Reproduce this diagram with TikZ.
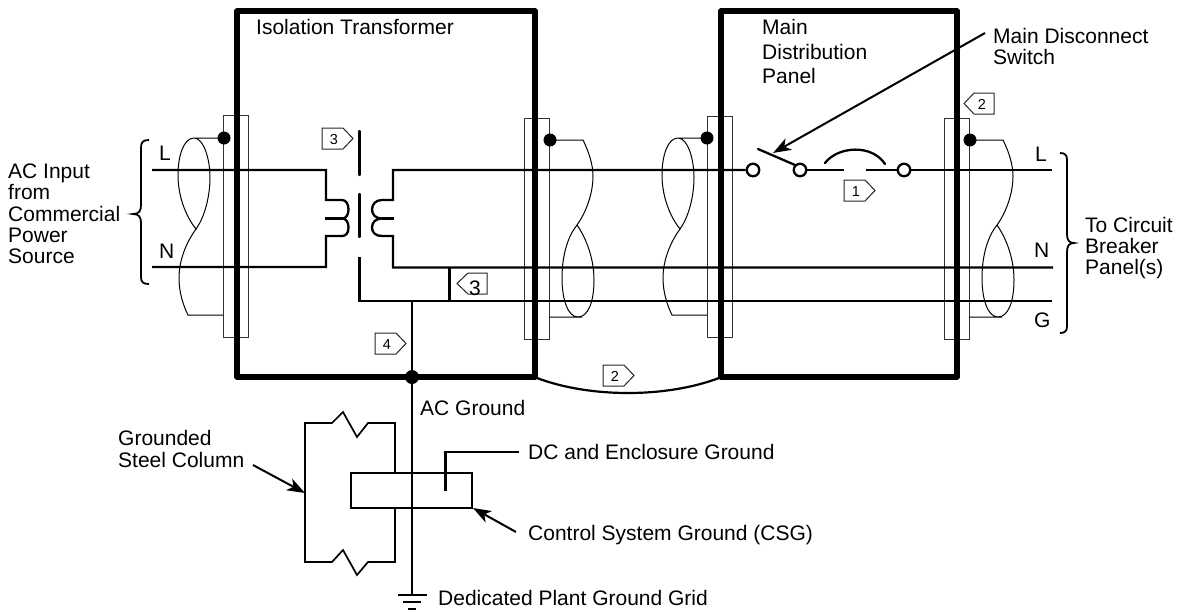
\documentclass[tikz,border=0pt]{standalone}
\usepackage{fontspec}
\setmainfont{Liberation Sans}
\usetikzlibrary{arrows.meta}
\tikzset{
  x=1pt,y=-1pt,
  heavy/.style={line width=5.2pt,line cap=round,line join=round},
  wire/.style={line width=2.3pt,line cap=butt,line join=miter},
  thinw/.style={line width=1pt},
  strip/.style={draw=black!80,line width=1pt},
  dotn/.style={circle,fill=black,inner sep=0pt,minimum size=13pt},
  term/.style={circle,draw,fill=white,line width=2.3pt,inner sep=0pt,minimum size=12.5pt},
  lbl/.style={anchor=base west,inner sep=0pt,font=\fontsize{21}{21}\selectfont,align=left},
  tagtxt/.style={font=\fontsize{14.5}{14.5}\selectfont,inner sep=0pt,anchor=base},
  tag/.style={draw=black!85,line width=1pt,line join=miter,fill=white},
  arw/.style={line width=2pt,-{Stealth[length=18pt,width=13pt,inset=5pt]}},
}
\newcommand{\tagR}[3]{% x left, y top, text: pentagon pointing right
  \draw[tag] (#1,#2) -- ++(21,0) -- ++(10,10.5) -- ++(-10,10.5) -- ++(-21,0) -- cycle;
  \node[tagtxt] at (#1+12,#2+16) {#3};
}
\newcommand{\tagL}[3]{% x left tip, y top
  \draw[tag] (#1,#2+10.5) -- ++(10,-10.5) -- ++(20,0) -- ++(0,21) -- ++(-20,0) -- cycle;
  \node[tagtxt] at (#1+18,#2+16) {#3};
}
\newcommand{\twistA}[1]{% dot on the right, loop at top, tail at bottom (offset x)
  \begin{scope}[xshift=#1pt]
  \draw[thinw] (707,138) -- (678,138)
    .. controls (668,138) and (662,155) .. (662,175)
    .. controls (662,198) and (671,218) .. (680,229)
    .. controls (688,218) and (694,198) .. (694,177)
    .. controls (694,160) and (688,138) .. (678,138);
  \draw[thinw] (680,229) .. controls (672,240) and (663,258) .. (663,278)
    .. controls (663,292) and (667,305) .. (672,315) -- (707,315);
  \end{scope}
}
\newcommand{\twistB}[1]{% dot on the left, loop at bottom
  \begin{scope}[xshift=#1pt]
  \draw[thinw] (550,140) -- (583,140)
    .. controls (589,152) and (593,165) .. (593,176)
    .. controls (593,195) and (585,214) .. (577,225)
    .. controls (568,236) and (562,255) .. (562,278)
    .. controls (562,300) and (568,317) .. (578,317) -- (549,317);
  \draw[thinw] (577,225) .. controls (586,238) and (594,258) .. (594,280)
    .. controls (594,302) and (588,317) .. (578,317);
  \end{scope}
}
\begin{document}
\begin{tikzpicture}
\useasboundingbox (0,0) rectangle (1185,611);
% terminal strips
\draw[strip] (223,115) rectangle (248,337);
\draw[strip] (524,118) rectangle (549,339);
\draw[strip] (707,116) rectangle (732,337);
\draw[strip] (944,118) rectangle (969,339);
% twisted conductors
\twistA{-484}
\twistB{0}
\twistA{0}
\twistB{420}
% enclosures
\draw[heavy] (237,377) -- (237,11) -- (535,11) -- (535,377) -- cycle;
\draw[heavy] (721,377) -- (721,11) -- (957,11) -- (957,377) -- cycle;
\coordinate (bondA) at (537,378);
\coordinate (bondB) at (719,378);
\draw[line width=2.2pt] (bondA) .. controls (590,398) and (666,398) .. (bondB);
% input side
\coordinate (inL) at (152,170);
\coordinate (inN) at (152,267);
\coordinate (priT) at (326,170);
\coordinate (priB) at (326,267);
\draw[wire] (inL) -- (priT) -- (326,200) -- (342,200)
  .. controls (346,200) and (348.5,204) .. (348.5,209.5)
  .. controls (348.5,215) and (346,218.5) .. (342,218.5)
  .. controls (346,218.5) and (348.5,222) .. (348.5,227.5)
  .. controls (348.5,233) and (346,236) .. (342,236) -- (326,236) -- (priB) -- (inN);
\draw[wire] (342,218.5) -- (325,218.5);
% core
\draw[wire,line cap=round] (359.5,131) -- (359.5,175);
\draw[wire,line cap=round] (359.5,194) -- (359.5,237);
\draw[wire] (359.5,257) -- (359.5,301) -- (412,301);
% secondary
\node[term] (t1) at (753,170) {};
\node[term] (t2) at (800,170) {};
\node[term] (t3) at (904,170) {};
\coordinate (outN) at (1053,267.5);
\coordinate (outG) at (1052,301);
\coordinate (outL) at (1052,170);
\draw[wire] (t1) -- (393,170) -- (393,200) -- (382,200)
  .. controls (376,200) and (372,204) .. (372,209.5)
  .. controls (372,215) and (376,218.5) .. (382,218.5)
  .. controls (376,218.5) and (372,222) .. (372,227.5)
  .. controls (372,233) and (376,236) .. (382,236) -- (393,236) -- (393,267.5) -- (outN);
\draw[wire] (382,218.5) -- (394,218.5);
\draw[wire] (412,301) -- (outG);
\draw[wire] (449.5,267.5) -- (449.5,301);
\draw[wire] (t3) -- (outL);
\draw[wire] (t2) -- (844,170);
\draw[wire] (866,170) -- (t3);
\draw[wire,line cap=round] (825,163) .. controls (838,146) and (872,144) .. (885,164);
\draw[wire,line cap=round] (758,149) -- (795,165);
% ground
\node[dotn,minimum size=14pt] (gnd) at (412,377) {};
\coordinate (gridTop) at (412,595);
\draw[wire] (412,301) -- (gnd) -- (gridTop);
\draw[wire] (398,595) -- (427,595);
\draw[wire] (403,602) -- (421,602);
\draw[wire] (408,609) -- (416,609);
% dots
\node[dotn] (d1) at (224,138) {};
\node[dotn] (d2) at (550,140) {};
\node[dotn] (d3) at (707,138) {};
\node[dotn] (d4) at (970,140) {};
% column & CSG
\draw[line width=1.7pt,line join=miter] (395,472) -- (395,423) -- (368,423) -- (357,437) -- (343,412) -- (332,423) -- (305,423) -- (305,562) -- (332,562) -- (343,550) -- (357,575) -- (368,562) -- (395,562) -- (395,508);
\draw[line width=2.3pt] (351,473) rectangle (472,508);
\draw[wire] (445.6,491) -- (445.6,452) -- (519,452);
% tags
\tagR{322}{128}{3}
\draw[tag] (457,283.5) -- (468,273) -- (487,273) -- (487,294) -- (468,294) -- cycle;
\node[lbl,anchor=base] (tagThree) at (475,295) {3};
\tagR{375}{333}{4}
\tagR{603}{365}{2}
\tagR{844}{180}{1}
\tagL{964}{93}{2}
% pointers
\coordinate (mdsTail) at (985,33);
\coordinate (mdsTip) at (773,153);
\draw[arw] (mdsTail) -- (mdsTip);
\coordinate (gscTail) at (253,465);
\coordinate (gscTip) at (305,493);
\draw[arw] (gscTail) -- (gscTip);
\coordinate (csgTail) at (516,532);
\coordinate (csgTip) at (473,508);
\draw[arw] (csgTail) -- (csgTip);
% braces
\draw[line width=1.8pt] (149,140) .. controls (143,140) and (141,142) .. (141,148) -- (141,205)
  .. controls (141,211) and (139,214) .. (133,214)
  .. controls (139,214) and (141,217) .. (141,223) -- (141,277)
  .. controls (141,282) and (143,284) .. (149,284);
\draw[line width=1.8pt] (1060,153) .. controls (1065,153) and (1067,155) .. (1067,160) -- (1067,234)
  .. controls (1067,240) and (1069,243) .. (1074,243)
  .. controls (1069,243) and (1067,246) .. (1067,252) -- (1067,326)
  .. controls (1067,331) and (1065,333) .. (1060,333);
% text
\node[lbl] (tIso) at (256,34) {Isolation Transformer};
\node[lbl] (tMain1) at (762,34) {Main};
\node[lbl] (tMain2) at (762,59) {Distribution};
\node[lbl] (tMain3) at (762,83) {Panel};
\node[lbl] (tMds1) at (993,43) {Main Disconnect};
\node[lbl] (tMds2) at (993,64) {Switch};
\node[lbl] (tAC1) at (8,178) {AC Input};
\node[lbl] (tAC2) at (8,199) {from};
\node[lbl] (tAC3) at (8,221) {Commercial};
\node[lbl] (tAC4) at (8,242) {Power};
\node[lbl] (tAC5) at (8,263) {Source};
\node[lbl] (tCB1) at (1085,232) {To Circuit};
\node[lbl] (tCB2) at (1085,253) {Breaker};
\node[lbl] (tCB3) at (1085,274) {Panel(s)};
\node[lbl] (lL1) at (159,160) {L};
\node[lbl] (lN1) at (159,258) {N};
\node[lbl] (lL2) at (1035,161) {L};
\node[lbl] (lN2) at (1034,257) {N};
\node[lbl] (lG) at (1034,327) {G};
\node[lbl] (tACg) at (420,415) {AC Ground};
\node[lbl] (tCol1) at (118,445) {Grounded};
\node[lbl] (tCol2) at (118,467) {Steel Column};
\node[lbl] (tDC) at (528,459) {DC and Enclosure Ground};
\node[lbl] (tCSG) at (528,540) {Control System Ground (CSG)};
\node[lbl] (tGrid) at (438,605) {Dedicated Plant Ground Grid};
\end{tikzpicture}
\end{document}
